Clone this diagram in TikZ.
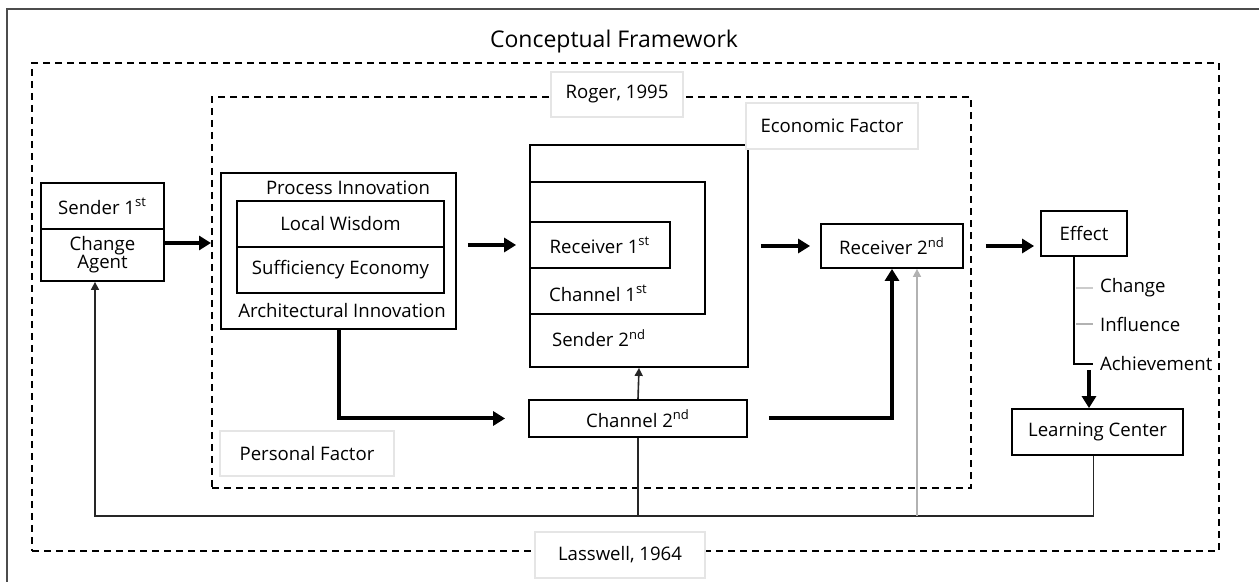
\documentclass[tikz,border=0pt]{standalone}
\usepackage{fontspec}
\setmainfont{Open Sans}
\usetikzlibrary{arrows.meta}

\begin{document}
\begin{tikzpicture}[x=0.5pt, y=-0.5pt,
    every node/.style={font=\fontsize{9.3}{11}\selectfont},
    box/.style={draw, line width=0.9pt, fill=white, inner sep=0pt, align=center},
    tagbox/.style={draw=gray!20, line width=0.6pt, fill=white, inner sep=0pt},
    dashframe/.style={draw, line width=1.1pt, dash pattern=on 3.5pt off 2.5pt, inner sep=0pt},
    bigarrow/.style={line width=2pt, -{Triangle[length=6pt,width=7pt]}},
    thinarrow/.style={line width=0.8pt, draw=gray!30!black, -{Triangle[length=4pt,width=4pt]}},
    thinline/.style={line width=0.8pt, draw=gray!30!black}]

    \useasboundingbox (0,0) rectangle (1259,582);
    \draw[line width=1pt, gray!60!black] (1259,9) -- (7,9) -- (7,582);

    \node[font=\fontsize{11.5}{14}\selectfont] (title) at (614,42) {Conceptual Framework};

    \node[dashframe, minimum width=593.5pt, minimum height=244pt] (outer) at (625.5,307) {};
    \node[dashframe, line width=1pt, minimum width=379.5pt, minimum height=195.5pt] (inner) at (591.5,292.5) {};
    \node[tagbox, minimum width=66pt, minimum height=22.5pt] (roger) at (617,94.5) {Roger, 1995};
    \node[tagbox, minimum width=85pt, minimum height=23pt] (lasswell) at (620,555) {Lasswell, 1964};

    \node[box, minimum width=61.5pt, minimum height=23pt] (sender1) at (102.5,206) {Sender 1\textsuperscript{st}};
    \node[box, minimum width=61.5pt, minimum height=26pt] (agent) at (102.5,255) {Change\\[-2pt]Agent};

    \node[box, minimum width=117.5pt, minimum height=78pt] (process) at (338.5,251) {};
    \node (procin) at (348,188) {Process Innovation};
    \node[box, minimum width=103.5pt, minimum height=23pt] (wisdom) at (340.5,224) {Local Wisdom};
    \node[box, minimum width=103.5pt, minimum height=23pt] (suff) at (340.5,270) {Sufficiency Economy};
    \node (archin) at (342,311) {Architectural Innovation};

    \node[box, minimum width=109pt, minimum height=111pt] (econ) at (639,256) {};
    \node[tagbox, minimum width=86pt, minimum height=23pt] (econtag) at (832,126) {Economic Factor};
    \node[box, minimum width=87.5pt, minimum height=66pt] (chan1) at (617.5,248) {};
    \node[box, minimum width=70pt, minimum height=23pt] (recv1) at (600,245) {Receiver 1\textsuperscript{st}};
    \node[anchor=west] (chan1txt) at (542,293) {Channel 1\textsuperscript{st}};
    \node[anchor=west] (send2txt) at (545,338) {Sender 2\textsuperscript{nd}};

    \node[box, minimum width=109pt, minimum height=18.5pt] (chan2) at (638,418.5) {Channel 2\textsuperscript{nd}};
    \node[box, minimum width=71pt, minimum height=22pt] (recv2) at (892,246) {Receiver 2\textsuperscript{nd}};
    \node[tagbox, minimum width=87pt, minimum height=22.5pt] (personal) at (307,453.5) {Personal Factor};

    \node[box, minimum width=43pt, minimum height=22.5pt] (effect) at (1084,233.5) {Effect};
    \node[box, minimum width=85.5pt, minimum height=23pt] (lc) at (1097.5,432) {Learning Center};
    \node[anchor=west] (change) at (1093,288) {Change};
    \node[anchor=west] (influence) at (1093,324) {Influence};
    \node[anchor=west] (achieve) at (1093,364) {Achievement};

    \coordinate (effbot) at (1074,364);
    \coordinate (ach) at (1089,364);
    \coordinate (fbl) at (95,516);

    \draw[bigarrow] (agent.east |- 0,243) -- (inner.west |- 0,243);
    \draw[bigarrow, shorten <=5.5pt, shorten >=6.5pt] (process.east |- recv1) -- (econ.west |- recv1);
    \draw[bigarrow, shorten <=6pt, shorten >=5pt] (econ.east |- recv2) -- (recv2.west);
    \draw[bigarrow, shorten <=11pt, shorten >=3pt] (recv2.east) -- (recv2.east -| effect.west);
    \draw[bigarrow, shorten >=11.5pt] (process.south) |- (chan2.west);
    \draw[bigarrow, shorten <=10.5pt] (chan2.east) -| (recv2.south);

    \draw[line width=1.4pt] ([xshift=-5pt]effect.south) -- (effbot) -- (change.west |- effbot);
    \draw[gray!40, line width=0.6pt] (effbot |- change.west) ++(1pt,0) -- (change.west);
    \draw[gray!60, line width=0.6pt] (effbot |- influence.west) ++(1pt,0) -- (influence.west);
    \draw[bigarrow, shorten <=3pt] (ach) -- (ach |- lc.north);

    \draw[thinarrow] (chan2.north) -- (econ.south);
    \draw[thinline] (chan2.south) -- (chan2.south |- fbl);
    \draw[thinarrow] ([xshift=-2pt]lc.south) |- (fbl) -- (fbl |- agent.south);
    \draw[thinarrow, draw=gray!60] ([xshift=12.5pt]recv2.south |- fbl) -- ([xshift=12.5pt]recv2.south);
\end{tikzpicture}
\end{document}
